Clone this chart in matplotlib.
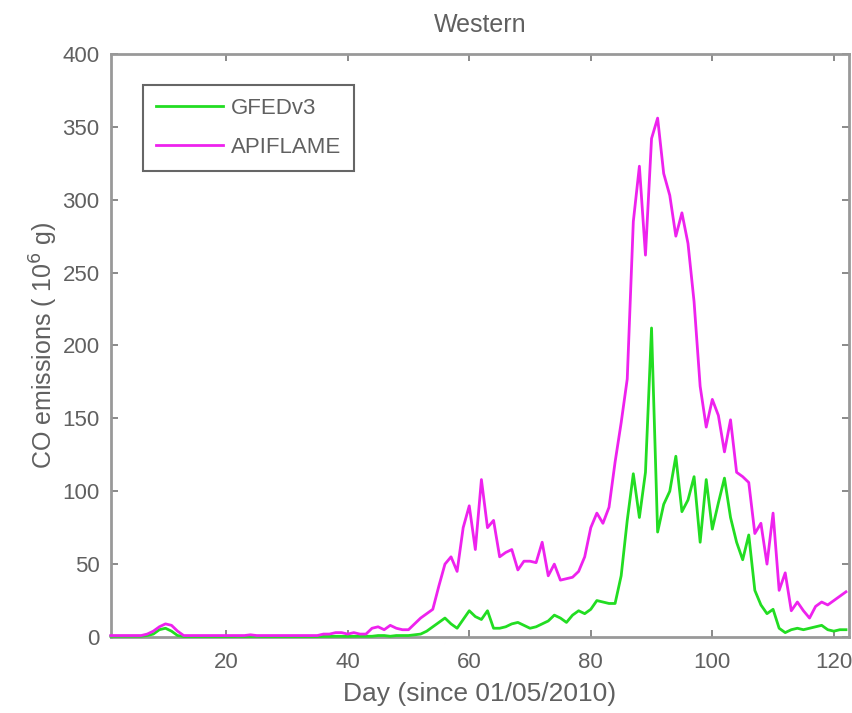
import matplotlib
matplotlib.use("Agg")
import matplotlib.pyplot as plt
import numpy as np

days = list(range(1, 123))

gfed = [0.5, 0.5, 0.5, 0.5, 0.5, 0.5, 1,
        2, 5, 6, 4, 1,
        0.3, 0.3, 0.3, 0.3, 0.3, 0.3, 0.3, 0.3, 0.3, 0.4, 0.3, 0.3, 0.4, 0.3, 0.3, 0.3,
        0.3, 0.3, 0.3, 0.3, 0.3, 0.3, 0.3, 0.4, 0.4, 0.5, 0.5, 0.4, 0.5, 0.5, 0.5,
        0.5, 1, 1, 0.5, 1, 1, 1, 1.5,
        2, 4, 7, 10, 13, 9, 6, 12, 18,
        14, 12, 18, 6, 6, 7, 9, 10, 8, 6,
        7, 9, 11, 15, 13, 10, 15, 18, 16, 19,
        25, 24, 23, 23, 42, 80, 112, 82, 113, 212,
        72, 91, 100, 124, 86, 94, 110, 65, 108, 74,
        92, 109, 82, 65, 53, 70, 32, 22, 16, 19,
        6, 3, 5, 6, 5, 6, 7, 8, 5, 4, 5, 5]

apiflame = [1, 1, 1, 1, 1, 1, 2,
            4, 7, 9, 8, 4, 1,
            1, 1, 1, 1, 1, 1, 1, 1, 1, 1, 1.5, 1, 1, 1, 1, 1, 1, 1, 1, 1, 1, 1,
            2, 2, 3, 3, 2, 3, 2, 2,
            6, 7, 5, 8, 6, 5, 5,
            9, 13, 16, 19, 35, 50, 55, 45, 75, 90,
            60, 108, 75, 80, 55, 58, 60, 46, 52, 52,
            51, 65, 42, 50, 39, 40, 41, 45, 55, 75,
            85, 78, 89, 120, 147, 177, 285, 323, 262, 342,
            356, 318, 303, 275, 291, 270, 230, 172, 144, 163,
            152, 127, 149, 113, 110, 106, 71, 78, 50, 85,
            32, 44, 18, 24, 18, 13, 21, 24, 22, 25, 28, 31]

xticks = [20, 40, 60, 80, 100, 120]
yticks = [0, 50, 100, 150, 200, 250, 300, 350, 400]

plt.rcParams['font.family'] = ['Liberation Sans', 'DejaVu Sans']

fig = plt.figure(figsize=(8.52, 7.13), dpi=100)
ax = fig.add_axes([0.130, 0.1066, 0.8665, 0.8177])

ax.plot(days, gfed, color='#22dd22', lw=2.0, label='GFEDv3', clip_on=False, zorder=3)
ax.plot(days, apiflame, color='#ee22ee', lw=2.0, label='APIFLAME', clip_on=False, zorder=3)

ax.set_xlim(1, 122.5)
ax.set_ylim(0, 400)
ax.set_xticks(xticks)
ax.set_yticks(yticks)

tc = '#606060'
ax.tick_params(direction='in', length=5, width=1.2, colors='#777777',
               labelcolor=tc, labelsize=16, top=True, right=True)
ax.tick_params(axis='x', pad=11)
ax.tick_params(axis='y', pad=8)
for s in ax.spines.values():
    s.set_color('#999999')
    s.set_linewidth(2)

ax.set_xlabel('Day (since 01/05/2010)', fontsize=19, color=tc, labelpad=6)
ax.set_ylabel(r'CO emissions ( 10$^{6}$ g)', fontsize=18, color=tc, labelpad=2)
ax.set_title('Western', fontsize=18, color=tc, pad=16)

leg = ax.legend(loc='upper left', bbox_to_anchor=(0.0434, 0.947), borderaxespad=0,
                fontsize=16, handlelength=3.0, handletextpad=0.35, labelspacing=0.8,
                borderpad=0.6, fancybox=False, framealpha=1)
leg.get_frame().set_edgecolor('#666666')
leg.get_frame().set_linewidth(1.5)
for t in leg.get_texts():
    t.set_color(tc)

fig.savefig('out.png', dpi=100)
